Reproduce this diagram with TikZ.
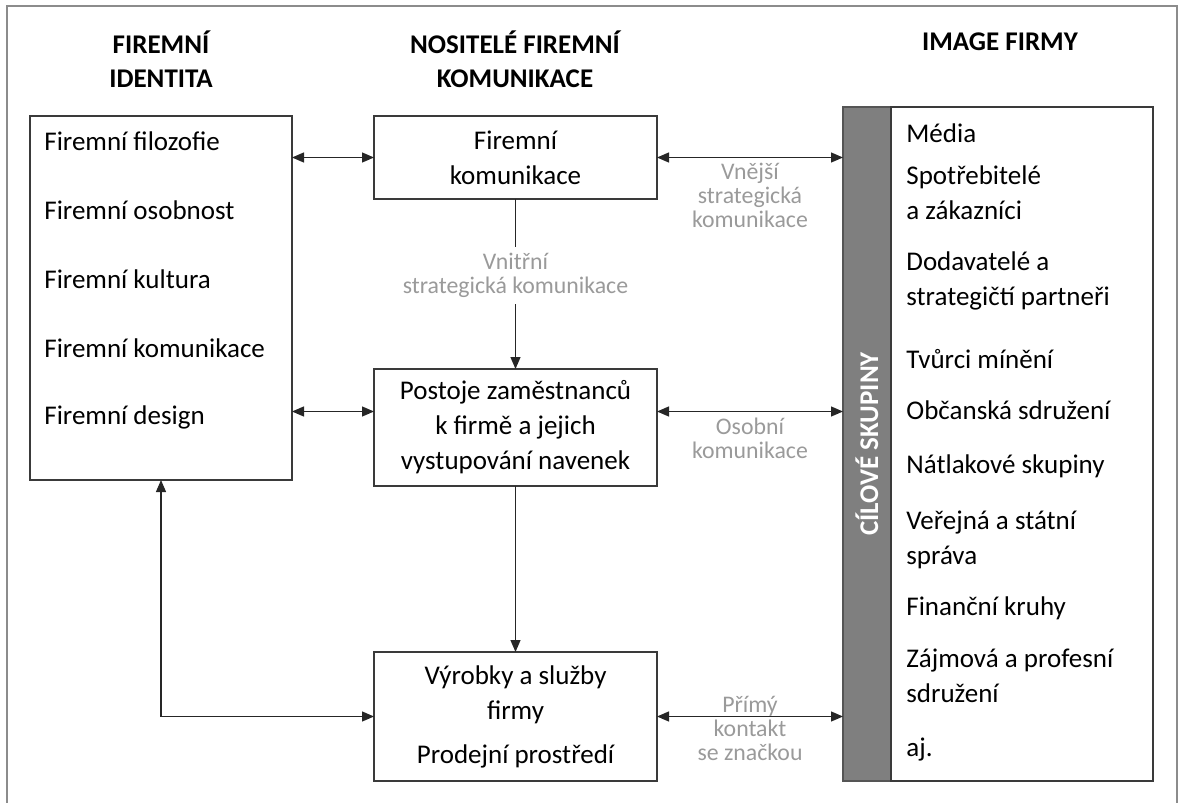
\documentclass[tikz,border=0pt]{standalone}
\usepackage{fontspec}
\setmainfont{Carlito}
\usepackage{tikz}
\usetikzlibrary{positioning,arrows.meta}
\usepackage{xcolor}

\definecolor{notegray}{HTML}{9A9A9A}
\definecolor{bargray}{HTML}{7F7F7F}
\definecolor{bardark}{HTML}{555555}
\definecolor{framegray}{HTML}{8C8C8C}
\definecolor{boxline}{HTML}{3A3A3A}

\tikzset{
  box/.style={draw=boxline,line width=0.75pt,inner sep=0pt,outer sep=0pt,align=center,
    font=\fontsize{13.5}{17.5}\selectfont},
  item/.style={anchor=west,align=left,inner sep=0pt,font=\fontsize{13.5}{17.5}\selectfont},
  head/.style={align=center,font=\fontsize{13.5}{17}\selectfont\bfseries},
  note/.style={align=center,text=notegray,inner sep=1.5pt,font=\fontsize{11.9}{12}\selectfont},
  link/.style={draw=black!85,line width=0.6pt},
}

\begin{document}
\begin{tikzpicture}[x=0.5pt,y=-0.5pt,>={Triangle[length=6pt,width=5pt]}]
\useasboundingbox (0,0) rectangle (1179,803);
% frame, open at the bottom
\draw[framegray,line width=1pt] (7,803)--(7,6)--(1177,6)--(1177,803);

% column headings
\node[head] (hident) at (161,59) {FIREMNÍ\\IDENTITA};
\node[head] (hnosit) at (515,59) {NOSITELÉ FIREMNÍ\\KOMUNIKACE};
\node[head] (himage) at (1000,42) {IMAGE FIRMY};

% identity box
\node[box,minimum width=131pt,minimum height=182pt] (ident) at (161,298) {};
\node[item] (fi1) at (44,141) {Firemní filozofie};
\node[item] (fi2) at (44,210) {Firemní osobnost};
\node[item] (fi3) at (44,279) {Firemní kultura};
\node[item] (fi4) at (44,348) {Firemní komunikace};
\node[item] (fi5) at (44,417) {Firemní design};

% carriers
\node[box,minimum width=141.5pt,minimum height=41.5pt] (komm) at (515.5,157.5) {Firemní\\komunikace};
\node[box,minimum width=141.5pt,minimum height=58.5pt] (postoje) at (515.5,427.5) {Postoje zaměstnanců\\k firmě a jejich\\vystupování navenek};
\node[box,minimum width=141.5pt,minimum height=64.5pt] (vyrobky) at (515.5,716.5) {Výrobky a služby\\firmy\\[4.5pt]Prodejní prostředí};

% target groups
\node[draw=bardark,fill=bargray,line width=0.75pt,minimum width=24pt,minimum height=337pt,inner sep=0pt,outer sep=0pt] (bar) at (867,444) {};
\node[rotate=90,text=white,font=\fontsize{13.5}{17}\selectfont\bfseries] (barlabel) at (bar.center) {CÍLOVÉ SKUPINY};
\node[box,minimum width=131pt,minimum height=337pt] (skupiny) at (1022,444) {};
\node[item] (sk1) at (906,133) {Média};
\node[item] (sk2) at (906,193) {Spotřebitelé\\a zákazníci};
\node[item] (sk3) at (906,281) {Dodavatelé a\\strategičtí partneři};
\node[item] (sk4) at (906,359) {Tvůrci mínění};
\node[item] (sk5) at (906,410) {Občanská sdružení};
\node[item] (sk6) at (906,466) {Nátlakové skupiny};
\node[item] (sk7) at (906,540) {Veřejná a státní\\správa};
\node[item] (sk8) at (906,608) {Finanční kruhy};
\node[item] (sk9) at (906,676) {Zájmová a profesní\\sdružení};
\node[item] (sk10) at (906,750) {aj.};

% connectors
\coordinate (pw) at ([yshift=8pt]postoje.west);
\coordinate (pe) at ([yshift=8pt]postoje.east);
\draw[link,<->] (ident.east |- komm.west)--(komm.west);
\draw[link,<->] (ident.east |- pw)--(pw);
\draw[link,<->] (komm.east)--(komm.east -| bar.west) node[note,midway,anchor=north,yshift=-1pt]{Vnější\\strategická\\komunikace};
\draw[link,<->] (pe)--(pe -| bar.west) node[note,midway,anchor=north,yshift=-1.5pt]{Osobní\\komunikace};
\draw[link,<->] (vyrobky.east)--(vyrobky.east -| bar.west) node[note,midway,yshift=-6pt]{Přímý\\kontakt\\se značkou};
\draw[link,->] (komm)--(postoje) node[note,pos=0.45,fill=white,inner sep=3pt]{Vnitřní\\strategická komunikace};
\draw[link,->] (postoje)--(vyrobky);
\draw[link,<->] (ident.south) |- (vyrobky.west);
\end{tikzpicture}
\end{document}
